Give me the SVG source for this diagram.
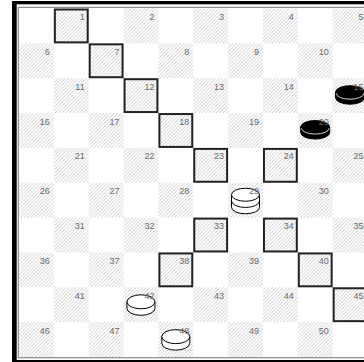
<svg xmlns="http://www.w3.org/2000/svg" xmlns:xlink="http://www.w3.org/1999/xlink" width="364" height="362" viewBox="0 0 364 362">
<style>
.d{fill:url(#h)}
.l{fill:#fff}
.n{font-family:"Liberation Sans",Arial,sans-serif;font-size:9px;fill:#6a6a6a;text-anchor:end}
.hl{fill:none;stroke:#222;stroke-width:2}
</style>
<defs>
<pattern id="h" patternUnits="userSpaceOnUse" width="3.5" height="3.5">
<rect width="3.5" height="3.5" fill="#fff"/>
<path d="M-1,1 l2,-2 M0,3.5 l3.5,-3.5 M2.5,4.5 l2,-2" stroke="#c4c4c4" stroke-width="0.85"/>
</pattern>
<g id="wp"><path d="M-14,0 v6.5 a14,7 0 0 0 28,0 v-6.5" fill="#fff" stroke="#000" stroke-width="1"/><ellipse rx="14" ry="7" fill="#fff" stroke="#000" stroke-width="1"/></g>
<g id="bp"><path d="M-14.5,0 v5.5 a14.5,6.5 0 0 0 29,0 v-5.5" fill="#000" stroke="#000" stroke-width="1"/><ellipse rx="14.5" ry="6.5" fill="#000" stroke="#000" stroke-width="1"/><path d="M-13.8,1.2 a13.8,5.8 0 0 0 27.6,0" fill="none" stroke="#fff" stroke-width="0.8"/></g>
<g id="wk"><path d="M-14,0 v12.5 a14,6.5 0 0 0 28,0 v-12.5" fill="#fff" stroke="#000" stroke-width="1"/><path d="M-14,6.2 a14,6.5 0 0 0 28,0" fill="none" stroke="#000" stroke-width="1"/><ellipse rx="14" ry="6.5" fill="#fff" stroke="#000" stroke-width="1"/></g>
</defs>
<g id="frame">
<rect x="12" y="1" width="360" height="362" fill="#000"/>
<rect x="16.7" y="4.3" width="360" height="355.7" fill="#fff"/>
<rect x="18.3" y="7.4" width="360" height="350.3" fill="#fff" stroke="#8a8a8a" stroke-width="1.2"/>
</g>
<g id="board">
<!-- row 0 -->
<g id="sq1"><rect class="d" x="53.85" y="8.5" width="34.85" height="34.85"/><rect class="hl" x="54.85" y="9.5" width="32.85" height="32.85"/><text class="n" x="84.7" y="20">1</text></g>
<g id="sq2"><rect class="d" x="123.55" y="8.5" width="34.85" height="34.85"/><text class="n" x="154.4" y="20">2</text></g>
<g id="sq3"><rect class="d" x="193.25" y="8.5" width="34.85" height="34.85"/><text class="n" x="224.1" y="20">3</text></g>
<g id="sq4"><rect class="d" x="262.95" y="8.5" width="34.85" height="34.85"/><text class="n" x="293.8" y="20">4</text></g>
<g id="sq5"><rect class="d" x="332.65" y="8.5" width="34.85" height="34.85"/><text class="n" x="363.5" y="20">5</text></g>
<!-- row 1 -->
<g id="sq6"><rect class="d" x="19" y="43.35" width="34.85" height="34.85"/><text class="n" x="49.85" y="54.85">6</text></g>
<g id="sq7"><rect class="d" x="88.7" y="43.35" width="34.85" height="34.85"/><rect class="hl" x="89.7" y="44.35" width="32.85" height="32.85"/><text class="n" x="119.55" y="54.85">7</text></g>
<g id="sq8"><rect class="d" x="158.4" y="43.35" width="34.85" height="34.85"/><text class="n" x="189.25" y="54.85">8</text></g>
<g id="sq9"><rect class="d" x="228.1" y="43.35" width="34.85" height="34.85"/><text class="n" x="258.95" y="54.85">9</text></g>
<g id="sq10"><rect class="d" x="297.8" y="43.35" width="34.85" height="34.85"/><text class="n" x="328.65" y="54.85">10</text></g>
<!-- row 2 -->
<g id="sq11"><rect class="d" x="53.85" y="78.2" width="34.85" height="34.85"/><text class="n" x="84.7" y="89.7">11</text></g>
<g id="sq12"><rect class="d" x="123.55" y="78.2" width="34.85" height="34.85"/><rect class="hl" x="124.55" y="79.2" width="32.85" height="32.85"/><text class="n" x="154.4" y="89.7">12</text></g>
<g id="sq13"><rect class="d" x="193.25" y="78.2" width="34.85" height="34.85"/><text class="n" x="224.1" y="89.7">13</text></g>
<g id="sq14"><rect class="d" x="262.95" y="78.2" width="34.85" height="34.85"/><text class="n" x="293.8" y="89.7">14</text></g>
<g id="sq15"><rect class="d" x="332.65" y="78.2" width="34.85" height="34.85"/><use xlink:href="#bp" x="350.05" y="92.2"/><text class="n" x="363.5" y="89.7">15</text></g>
<!-- row 3 -->
<g id="sq16"><rect class="d" x="19" y="113.05" width="34.85" height="34.85"/><text class="n" x="49.85" y="124.55">16</text></g>
<g id="sq17"><rect class="d" x="88.7" y="113.05" width="34.85" height="34.85"/><text class="n" x="119.55" y="124.55">17</text></g>
<g id="sq18"><rect class="d" x="158.4" y="113.05" width="34.85" height="34.85"/><rect class="hl" x="159.4" y="114.05" width="32.85" height="32.85"/><text class="n" x="189.25" y="124.55">18</text></g>
<g id="sq19"><rect class="d" x="228.1" y="113.05" width="34.85" height="34.85"/><text class="n" x="258.95" y="124.55">19</text></g>
<g id="sq20"><rect class="d" x="297.8" y="113.05" width="34.85" height="34.85"/><use xlink:href="#bp" x="315.2" y="127.05"/><text class="n" x="328.65" y="124.55">20</text></g>
<!-- row 4 -->
<g id="sq21"><rect class="d" x="53.85" y="147.9" width="34.85" height="34.85"/><text class="n" x="84.7" y="159.4">21</text></g>
<g id="sq22"><rect class="d" x="123.55" y="147.9" width="34.85" height="34.85"/><text class="n" x="154.4" y="159.4">22</text></g>
<g id="sq23"><rect class="d" x="193.25" y="147.9" width="34.85" height="34.85"/><rect class="hl" x="194.25" y="148.9" width="32.85" height="32.85"/><text class="n" x="224.1" y="159.4">23</text></g>
<g id="sq24"><rect class="d" x="262.95" y="147.9" width="34.85" height="34.85"/><rect class="hl" x="263.95" y="148.9" width="32.85" height="32.85"/><text class="n" x="293.8" y="159.4">24</text></g>
<g id="sq25"><rect class="d" x="332.65" y="147.9" width="34.85" height="34.85"/><text class="n" x="363.5" y="159.4">25</text></g>
<!-- row 5 -->
<g id="sq26"><rect class="d" x="19" y="182.75" width="34.85" height="34.85"/><text class="n" x="49.85" y="194.25">26</text></g>
<g id="sq27"><rect class="d" x="88.7" y="182.75" width="34.85" height="34.85"/><text class="n" x="119.55" y="194.25">27</text></g>
<g id="sq28"><rect class="d" x="158.4" y="182.75" width="34.85" height="34.85"/><text class="n" x="189.25" y="194.25">28</text></g>
<g id="sq29"><rect class="d" x="228.1" y="182.75" width="34.85" height="34.85"/><use xlink:href="#wk" x="245.5" y="194.75"/><text class="n" x="258.95" y="194.25">29</text></g>
<g id="sq30"><rect class="d" x="297.8" y="182.75" width="34.85" height="34.85"/><text class="n" x="328.65" y="194.25">30</text></g>
<!-- row 6 -->
<g id="sq31"><rect class="d" x="53.85" y="217.6" width="34.85" height="34.85"/><text class="n" x="84.7" y="229.1">31</text></g>
<g id="sq32"><rect class="d" x="123.55" y="217.6" width="34.85" height="34.85"/><text class="n" x="154.4" y="229.1">32</text></g>
<g id="sq33"><rect class="d" x="193.25" y="217.6" width="34.85" height="34.85"/><rect class="hl" x="194.25" y="218.6" width="32.85" height="32.85"/><text class="n" x="224.1" y="229.1">33</text></g>
<g id="sq34"><rect class="d" x="262.95" y="217.6" width="34.85" height="34.85"/><rect class="hl" x="263.95" y="218.6" width="32.85" height="32.85"/><text class="n" x="293.8" y="229.1">34</text></g>
<g id="sq35"><rect class="d" x="332.65" y="217.6" width="34.85" height="34.85"/><text class="n" x="363.5" y="229.1">35</text></g>
<!-- row 7 -->
<g id="sq36"><rect class="d" x="19" y="252.45" width="34.85" height="34.85"/><text class="n" x="49.85" y="263.95">36</text></g>
<g id="sq37"><rect class="d" x="88.7" y="252.45" width="34.85" height="34.85"/><text class="n" x="119.55" y="263.95">37</text></g>
<g id="sq38"><rect class="d" x="158.4" y="252.45" width="34.85" height="34.85"/><rect class="hl" x="159.4" y="253.45" width="32.85" height="32.85"/><text class="n" x="189.25" y="263.95">38</text></g>
<g id="sq39"><rect class="d" x="228.1" y="252.45" width="34.85" height="34.85"/><text class="n" x="258.95" y="263.95">39</text></g>
<g id="sq40"><rect class="d" x="297.8" y="252.45" width="34.85" height="34.85"/><rect class="hl" x="298.8" y="253.45" width="32.85" height="32.85"/><text class="n" x="328.65" y="263.95">40</text></g>
<!-- row 8 -->
<g id="sq41"><rect class="d" x="53.85" y="287.3" width="34.85" height="34.85"/><text class="n" x="84.7" y="298.8">41</text></g>
<g id="sq42"><rect class="d" x="123.55" y="287.3" width="34.85" height="34.85"/><use xlink:href="#wp" x="140.95" y="301.8"/><text class="n" x="154.4" y="298.8">42</text></g>
<g id="sq43"><rect class="d" x="193.25" y="287.3" width="34.85" height="34.85"/><text class="n" x="224.1" y="298.8">43</text></g>
<g id="sq44"><rect class="d" x="262.95" y="287.3" width="34.85" height="34.85"/><text class="n" x="293.8" y="298.8">44</text></g>
<g id="sq45"><rect class="d" x="332.65" y="287.3" width="34.85" height="34.85"/><rect class="hl" x="333.65" y="288.3" width="32.85" height="32.85"/><text class="n" x="363.5" y="298.8">45</text></g>
<!-- row 9 -->
<g id="sq46"><rect class="d" x="19" y="322.15" width="34.85" height="34.85"/><text class="n" x="49.85" y="333.65">46</text></g>
<g id="sq47"><rect class="d" x="88.7" y="322.15" width="34.85" height="34.85"/><text class="n" x="119.55" y="333.65">47</text></g>
<g id="sq48"><rect class="d" x="158.4" y="322.15" width="34.85" height="34.85"/><use xlink:href="#wp" x="175.8" y="336.65"/><text class="n" x="189.25" y="333.65">48</text></g>
<g id="sq49"><rect class="d" x="228.1" y="322.15" width="34.85" height="34.85"/><text class="n" x="258.95" y="333.65">49</text></g>
<g id="sq50"><rect class="d" x="297.8" y="322.15" width="34.85" height="34.85"/><text class="n" x="328.65" y="333.65">50</text></g>
</g>
</svg>
